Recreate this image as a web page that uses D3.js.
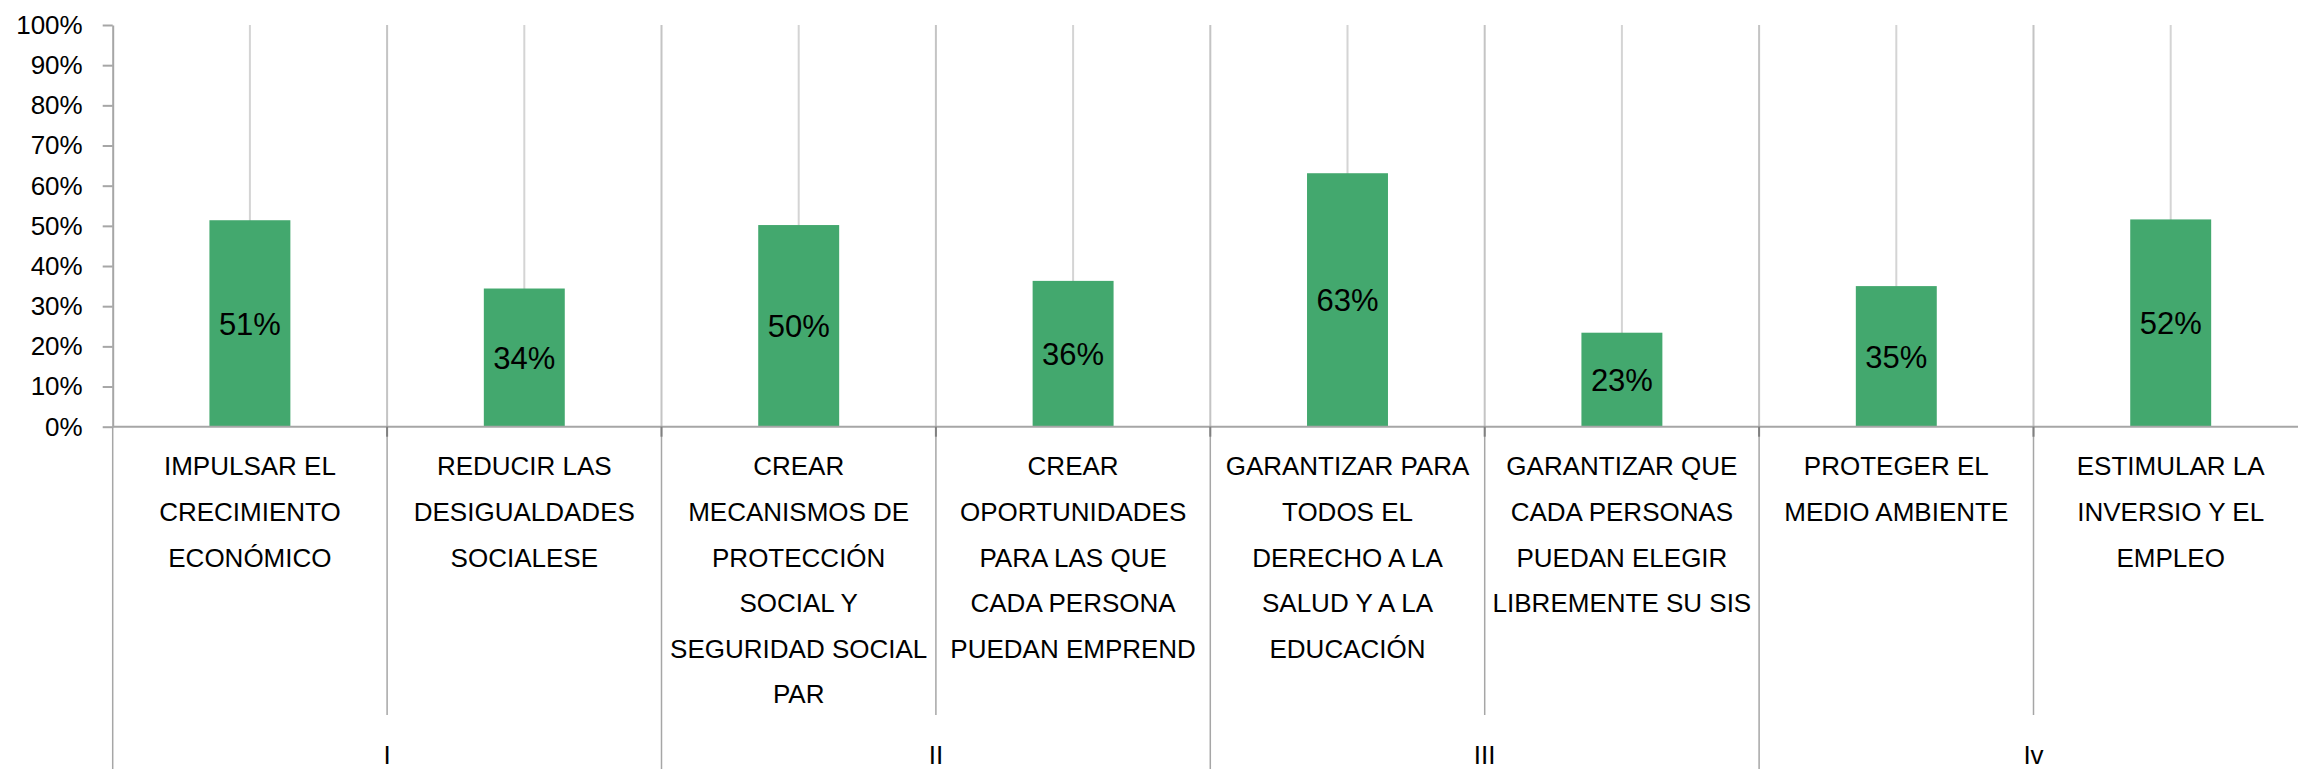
<!DOCTYPE html>
<html lang="es">
  <head>
    <meta charset="UTF-8" />
    <title>Objetivos</title>
    <style>
      body {
        margin: 0;
        background: #fff;
        font-family: "Liberation Sans", Arial, sans-serif;
      }
    </style>
    <script src="https://d3js.org/d3.v7.min.js"></script>
  </head>
  <body>
  <script>
    // category labels (line breaks as in the original)
    const categories = [
      "IMPULSAR EL\nCRECIMIENTO\nECONÓMICO",
      "REDUCIR LAS\nDESIGUALDADES\nSOCIALESE",
      "CREAR\nMECANISMOS DE\nPROTECCIÓN\nSOCIAL Y\nSEGURIDAD SOCIAL\nPAR",
      "CREAR\nOPORTUNIDADES\nPARA LAS QUE\nCADA PERSONA\nPUEDAN EMPREND",
      "GARANTIZAR PARA\nTODOS EL\nDERECHO A LA\nSALUD Y A LA\nEDUCACIÓN",
      "GARANTIZAR QUE\nCADA PERSONAS\nPUEDAN ELEGIR\nLIBREMENTE SU SIS",
      "PROTEGER EL\nMEDIO AMBIENTE",
      "ESTIMULAR LA\nINVERSIO Y EL\nEMPLEO"
    ]
    const groups = ["I", "II", "III", "Iv"]
    const values = [0.514, 0.344, 0.502, 0.363, 0.631, 0.234, 0.350, 0.516]
    const yTicks = [0, 0.1, 0.2, 0.3, 0.4, 0.5, 0.6, 0.7, 0.8, 0.9, 1]

    const W = 2298, H = 769
    const plotLeft = 112.7, catW = 274.4
    const plotTop = 25, plotBase = 426.7

    const svg = d3.select("body").append("svg")
        .attr("width", W)
        .attr("height", H)

    const x = d3.scaleBand()
        .domain(d3.range(categories.length))
        .range([plotLeft, plotLeft + catW * categories.length])
        .padding(0)

    const xg = d3.scaleBand()
        .domain(d3.range(groups.length))
        .range([plotLeft, plotLeft + catW * categories.length])
        .padding(0)

    const y = d3.scaleLinear()
        .domain([0, 1])
        .range([plotBase, plotTop])

    // light gridlines at category centers
    svg.append("g").selectAll("line")
      .data(d3.range(categories.length))
      .enter().append("line")
        .attr("x1", i => x(i) + x.bandwidth() / 2)
        .attr("x2", i => x(i) + x.bandwidth() / 2)
        .attr("y1", y(1))
        .attr("y2", y(0))
        .attr("stroke", "#d4d4d4")
        .attr("stroke-width", 2)

    // gridlines at category boundaries
    svg.append("g").selectAll("line")
      .data(d3.range(1, categories.length + 1))
      .enter().append("line")
        .attr("x1", i => plotLeft + catW * i)
        .attr("x2", i => plotLeft + catW * i)
        .attr("y1", y(1))
        .attr("y2", y(0))
        .attr("stroke", "#c4c4c4")
        .attr("stroke-width", 2)

    // bars
    svg.append("g").selectAll("rect")
      .data(values)
      .enter().append("rect")
        .attr("x", (d, i) => x(i) + x.bandwidth() * (1 - 0.295) / 2)
        .attr("width", x.bandwidth() * 0.295)
        .attr("y", d => y(d))
        .attr("height", d => y(0) - y(d))
        .attr("fill", "#43a86e")

    // data labels
    svg.append("g").selectAll("text")
      .data(values)
      .enter().append("text")
        .attr("x", (d, i) => x(i) + x.bandwidth() / 2)
        .attr("y", d => (y(d) + y(0)) / 2)
        .attr("dy", "0.36em")
        .attr("text-anchor", "middle")
        .attr("font-size", "31px")
        .attr("fill", "#000")
        .text(d => Math.round(d * 100) + "%")

    // y axis
    const yAxis = svg.append("g")
        .attr("transform", `translate(${plotLeft},0)`)
        .call(d3.axisLeft(y).tickValues(yTicks).tickFormat(d3.format(".0%"))
          .tickSize(10).tickSizeOuter(0).tickPadding(20))
    yAxis.select(".domain").attr("stroke", "#a6a6a6").attr("stroke-width", 2)
    yAxis.selectAll(".tick line").attr("stroke", "#a6a6a6").attr("stroke-width", 2)
    yAxis.selectAll("text")
        .attr("font-size", "26px")
        .attr("font-family", "'Liberation Sans', Arial, sans-serif")
        .attr("fill", "#000")

    // x axis line
    svg.append("line")
        .attr("x1", plotLeft)
        .attr("x2", W)
        .attr("y1", y(0))
        .attr("y2", y(0))
        .attr("stroke", "#a6a6a6")
        .attr("stroke-width", 2)

    // category boundaries below axis (within groups)
    svg.append("g").selectAll("line")
      .data(d3.range(1, categories.length + 1).filter(i => i % 2 === 1))
      .enter().append("line")
        .attr("x1", i => plotLeft + catW * i)
        .attr("x2", i => plotLeft + catW * i)
        .attr("y1", y(0))
        .attr("y2", 715)
        .attr("stroke", "#a6a6a6")
        .attr("stroke-width", 1.5)

    // group boundaries below axis
    svg.append("g").selectAll("line")
      .data(d3.range(groups.length + 1))
      .enter().append("line")
        .attr("x1", g => plotLeft + catW * 2 * g)
        .attr("x2", g => plotLeft + catW * 2 * g)
        .attr("y1", y(0))
        .attr("y2", H)
        .attr("stroke", "#a6a6a6")
        .attr("stroke-width", 1.5)

    // small dark ticks at the axis
    svg.append("g").selectAll("line")
      .data(d3.range(1, categories.length + 1))
      .enter().append("line")
        .attr("x1", i => plotLeft + catW * i)
        .attr("x2", i => plotLeft + catW * i)
        .attr("y1", y(0))
        .attr("y2", y(0) + 10)
        .attr("stroke", "#808080")
        .attr("stroke-width", 2)

    // category labels
    const catText = svg.append("g").selectAll("text")
      .data(categories)
      .enter().append("text")
        .attr("text-anchor", "middle")
        .attr("font-size", "26px")
        .attr("fill", "#000")

    catText.selectAll("tspan")
      .data((d, i) => d.split("\n").map(t => ({ t, i })))
      .enter().append("tspan")
        .attr("x", d => x(d.i) + x.bandwidth() / 2)
        .attr("y", (d, j) => 466 + j * 45.6)
        .attr("dy", "0.36em")
        .text(d => d.t)

    // group labels
    svg.append("g").selectAll("text")
      .data(groups)
      .enter().append("text")
        .attr("x", (d, i) => xg(i) + xg.bandwidth() / 2)
        .attr("y", 755)
        .attr("dy", "0.36em")
        .attr("text-anchor", "middle")
        .attr("font-size", "26px")
        .attr("fill", "#000")
        .text(d => d)
  </script>
  </body>
</html>
